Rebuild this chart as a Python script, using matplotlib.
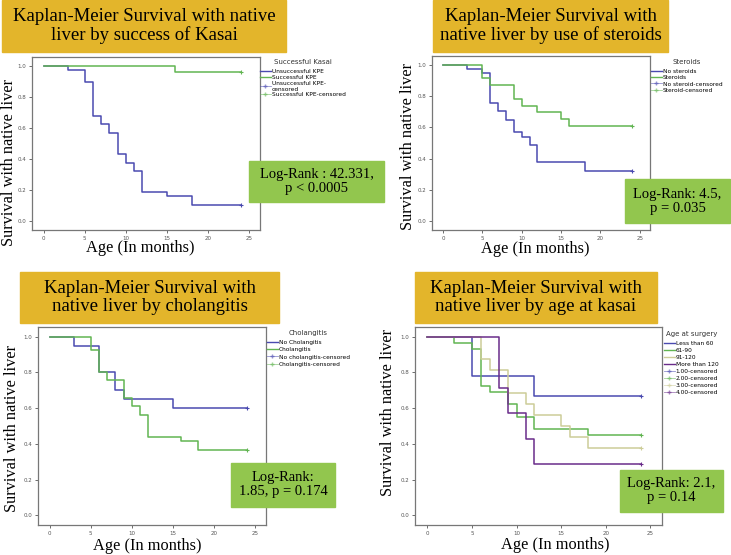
import matplotlib
matplotlib.use("Agg")
import matplotlib.pyplot as plt
from matplotlib.patches import Rectangle
from matplotlib.lines import Line2D

# ── Data ──────────────────────────────────────────────────────────────────────
kasai_unsucc_t = [0, 3, 5, 6, 7, 8, 9, 10, 11, 12, 15, 18, 24]
kasai_unsucc_s = [1.0, 0.973, 0.892, 0.676, 0.622, 0.568, 0.432, 0.378, 0.324, 0.189, 0.162, 0.108, 0.108]
kasai_succ_t = [0, 16, 24]
kasai_succ_s = [1.0, 0.958, 0.958]

ster_no_t = [0, 3, 5, 6, 7, 8, 9, 10, 11, 12, 18, 24]
ster_no_s = [1.0, 0.973, 0.946, 0.757, 0.703, 0.649, 0.568, 0.541, 0.486, 0.378, 0.324, 0.324]
ster_yes_t = [0, 5, 6, 9, 10, 12, 15, 16, 24]
ster_yes_s = [1.0, 0.913, 0.870, 0.783, 0.739, 0.696, 0.652, 0.609, 0.609]

chol_no_t = [0, 3, 6, 8, 9, 15, 24]
chol_no_s = [1.0, 0.95, 0.80, 0.70, 0.65, 0.60, 0.60]
chol_yes_t = [0, 5, 6, 7, 9, 10, 11, 12, 16, 18, 24]
chol_yes_s = [1.0, 0.927, 0.805, 0.756, 0.659, 0.610, 0.561, 0.439, 0.415, 0.366, 0.366]

age_lt60_t = [0, 5, 12, 24]
age_lt60_s = [1.0, 0.778, 0.667, 0.667]
age_61_90_t = [0, 3, 5, 6, 7, 9, 10, 12, 18, 24]
age_61_90_s = [1.0, 0.966, 0.931, 0.724, 0.690, 0.621, 0.552, 0.483, 0.448, 0.448]
age_91_120_t = [0, 6, 7, 9, 11, 12, 15, 16, 18, 24]
age_91_120_s = [1.0, 0.875, 0.8125, 0.6875, 0.625, 0.5625, 0.50, 0.4375, 0.375, 0.375]
age_gt120_t = [0, 8, 9, 11, 12, 24]
age_gt120_s = [1.0, 0.714, 0.571, 0.429, 0.286, 0.286]

titles = [
    "Kaplan-Meier Survival with native\nliver by success of Kasai",
    "Kaplan-Meier Survival with\nnative liver by use of steroids",
    "Kaplan-Meier Survival with\nnative liver by cholangitis",
    "Kaplan-Meier Survival with\nnative liver by age at kasai",
]
logrank_texts = [
    "Log-Rank : 42.331,\np < 0.0005",
    "Log-Rank: 4.5,\np = 0.035",
    "Log-Rank:\n1.85, p = 0.174",
    "Log-Rank: 2.1,\np = 0.14",
]
legend_titles = ["Successful Kasai", "Steroids", "Cholangitis", "Age at surgery"]
legend_labels = [
    ["Unsuccessful KPE", "Successful KPE", "Unsuccessful KPE-\ncensored", "Successful KPE-censored"],
    ["No steroids", "Steroids", "No steroid-censored", "Steroid-censored"],
    ["No Cholangitis", "Cholangitis", "No cholangitis-censored", "Cholangitis-censored"],
    ["Less than 60", "61-90", "91-120", "More than 120",
     "1.00-censored", "2.00-censored", "3.00-censored", "4.00-censored"],
]

BLUE = "#4a4ab0"
GREEN = "#62b552"
BEIGE = "#cdcd98"
PURPLE = "#6a2c8a"
GOLD = "#e3b52b"
LIME = "#92c64e"

W, H = 731, 555
fig = plt.figure(figsize=(W / 100, H / 100), dpi=100)


def fx(x):
    return x / W


def fy(y):
    return 1 - y / H


def box(x0, y0, x1, y1, color):
    fig.add_artist(Rectangle((fx(x0), fy(y1)), fx(x1 - x0), (y1 - y0) / H,
                             transform=fig.transFigure, color=color, zorder=3))


def panel(frame, curves, colors, title_box, title, lr_box, lr_text,
          ylab_xy, xlab_xy, leg_xy, leg_title, labels, spacing):
    l, t, r, b = frame
    ax = fig.add_axes([fx(l), fy(b), fx(r - l), (b - t) / H])
    for (tt, ss), c in zip(curves, colors):
        ax.step(tt, ss, where="post", color=c, lw=1.1)
        ax.plot(tt[-1], ss[-1], marker="+", color=c, ms=3.5, mew=0.8)
    ax.set_xlim(-1.4, 26.3)
    ax.set_ylim(-0.055, 1.055)
    ax.set_xticks([0, 5, 10, 15, 20, 25])
    ax.set_yticks([0.0, 0.2, 0.4, 0.6, 0.8, 1.0])
    ax.set_yticklabels(["0.0", "0.2", "0.4", "0.6", "0.8", "1.0"])
    ax.tick_params(labelsize=4, length=2.5, width=0.6, colors="#555555", pad=1.5)
    for sp in ax.spines.values():
        sp.set_color("#777777")
        sp.set_linewidth(0.9)

    # title box
    x0, y0, x1, y1 = title_box
    box(x0, y0, x1, y1, GOLD)
    fig.text(fx((x0 + x1) / 2), fy((y0 + y1) / 2), title, ha="center", va="center",
             family="Liberation Serif", fontsize=13.5, linespacing=1.05, zorder=5)

    # log-rank box
    x0, y0, x1, y1 = lr_box
    box(x0, y0, x1, y1, LIME)
    fig.text(fx((x0 + x1) / 2), fy((y0 + y1) / 2), lr_text, ha="center", va="center",
             family="Liberation Serif", fontsize=10.5, linespacing=1.1, zorder=5)

    fig.text(fx(ylab_xy[0]), fy(ylab_xy[1]), "Survival with native liver", rotation=90,
             ha="center", va="center", family="Liberation Serif", fontsize=11.8)
    fig.text(fx(xlab_xy[0]), fy(xlab_xy[1]), "Age (In months)", ha="center", va="center",
             family="Liberation Serif", fontsize=11.8)

    handles = [Line2D([], [], color=c, lw=1) for c in colors]
    handles += [Line2D([], [], color=c, lw=0.6, marker="+", ms=3, alpha=0.6) for c in colors]
    leg = fig.legend(handles, labels, title=leg_title, loc="upper left",
                     bbox_to_anchor=(fx(leg_xy[0]), fy(leg_xy[1])), frameon=False,
                     fontsize=4.2, title_fontsize=5, handlelength=1.8, handletextpad=0.2,
                     labelspacing=spacing, borderaxespad=0, borderpad=0)
    leg.get_title().set_color("#333333")
    leg._legend_box.sep = 3
    return ax


panel((32, 57, 260, 230),
      [(kasai_unsucc_t, kasai_unsucc_s), (kasai_succ_t, kasai_succ_s)], [BLUE, GREEN],
      (2, 0, 286, 52), titles[0], (249, 161, 384, 202), logrank_texts[0],
      (9, 162), (140, 248), (260, 59), legend_titles[0], legend_labels[0], 0.12)

panel((432, 56, 650, 230),
      [(ster_no_t, ster_no_s), (ster_yes_t, ster_yes_s)], [BLUE, GREEN],
      (433, 0, 668, 52), titles[1], (625, 179, 730, 223), logrank_texts[1],
      (408, 147), (535, 249), (651, 59), legend_titles[1], legend_labels[1], 0.18)

panel((38, 327, 266, 525),
      [(chol_no_t, chol_no_s), (chol_yes_t, chol_yes_s)], [BLUE, GREEN],
      (20, 272, 279, 323), titles[2], (231, 463, 335, 507), logrank_texts[2],
      (12, 429), (147, 546), (267, 330), legend_titles[2], legend_labels[2], 0.35)

panel((415, 327, 662, 525),
      [(age_lt60_t, age_lt60_s), (age_61_90_t, age_61_90_s),
       (age_91_120_t, age_91_120_s), (age_gt120_t, age_gt120_s)],
      [BLUE, GREEN, BEIGE, PURPLE],
      (415, 272, 657, 323), titles[3], (620, 470, 723, 512), logrank_texts[3],
      (388, 413), (555, 545), (664, 331), legend_titles[3], legend_labels[3], 0.32)

fig.savefig("out.png", dpi=100)
